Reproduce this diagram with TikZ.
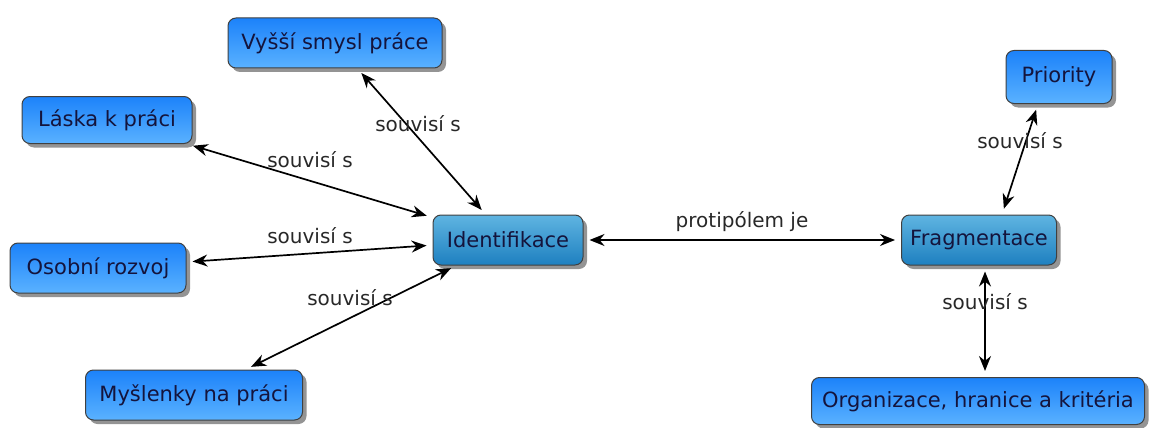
\documentclass[tikz,border=0pt]{standalone}
\usepackage{fontspec}
\setmainfont{DejaVu Sans}
\usetikzlibrary{arrows.meta, shadows}

\definecolor{bluetop}{RGB}{28,130,250}
\definecolor{bluebot}{RGB}{90,178,255}
\definecolor{tealtop}{RGB}{95,180,225}
\definecolor{tealbot}{RGB}{30,128,192}
\definecolor{boxtext}{RGB}{20,20,60}
\definecolor{labeltext}{RGB}{40,40,40}

\begin{document}
\begin{tikzpicture}[x=1pt, y=-1pt,
    concept/.style={draw=black!75, line width=1pt, rounded corners=8pt,
        top color=bluetop, bottom color=bluebot, text=boxtext,
        font=\fontsize{21}{24}\selectfont, minimum height=50pt, inner sep=0pt,
        drop shadow={shadow xshift=4pt, shadow yshift=-4pt, opacity=0.6, fill=black!70}},
    hub/.style={concept, top color=tealtop, bottom color=tealbot},
    link/.style={{Stealth[length=15pt,width=12pt]}-{Stealth[length=15pt,width=12pt]},
        line width=1.7pt, shorten <=6pt, shorten >=6pt},
    linklabel/.style={text=labeltext, font=\fontsize{20}{23}\selectfont}]
    \useasboundingbox (0,0) rectangle (1149,428);

    % Concepts
    \node[hub, minimum width=150pt] (ident) at (508,240) {Identifikace};
    \node[hub, minimum width=155pt] (frag) at (979,240) {Fragmentace};
    \node[concept, minimum width=214pt] (smysl) at (335,43) {Vyšší smysl práce};
    \node[concept, minimum width=170pt, minimum height=47pt] (laska) at (107,120) {Láska k práci};
    \node[concept, minimum width=176pt] (rozvoj) at (98,268) {Osobní rozvoj};
    \node[concept, minimum width=217pt] (myslenky) at (194,395) {Myšlenky na práci};
    \node[concept, minimum width=106pt, minimum height=53pt] (prio) at (1059,77) {Priority};
    \node[concept, minimum width=333pt, minimum height=47pt] (org) at (978,401) {Organizace, hranice a kritéria};

    % Links
    \draw[link] (smysl) -- (ident);
    \node[linklabel] (l1) at (418,124) {souvisí s};
    \draw[link] (laska) -- (ident);
    \node[linklabel] (l2) at (310,160) {souvisí s};
    \draw[link] (rozvoj) -- (ident);
    \node[linklabel] (l3) at (310,236) {souvisí s};
    \draw[link] (myslenky) -- (ident);
    \node[linklabel] (l4) at (350,298) {souvisí s};
    \draw[link] (ident) -- (frag);
    \node[linklabel] (l5) at (742,222) {protipólem je};
    \draw[link] (frag.north -| 1002,0) -- (prio.south -| 1038,0);
    \node[linklabel] (l6) at (1020,141) {souvisí s};
    \draw[link] (frag.south -| 985,0) -- (org.north -| 985,0);
    \node[linklabel] (l7) at (985,302) {souvisí s};
\end{tikzpicture}
\end{document}
